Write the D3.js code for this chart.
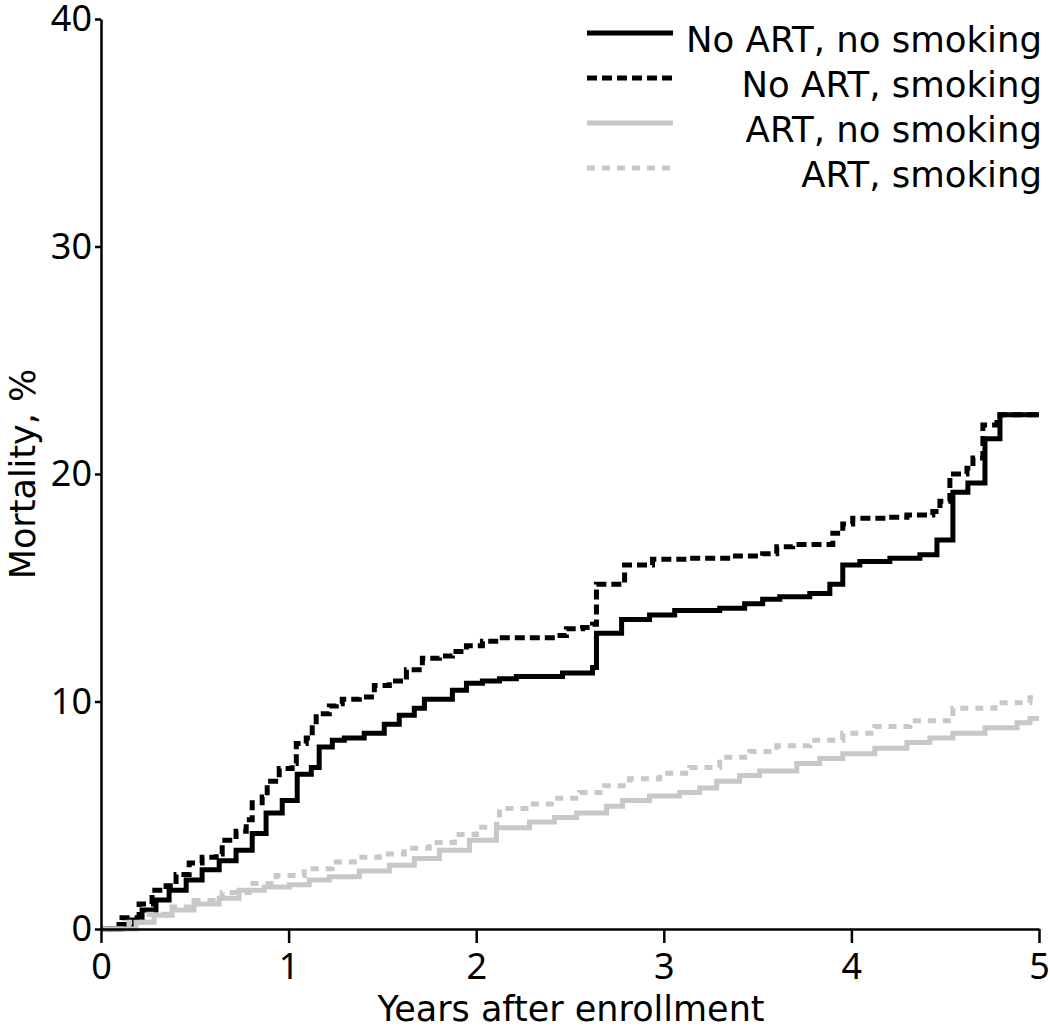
<!DOCTYPE html>
<html>
<head>
<meta charset="utf-8">
<script src="https://cdn.jsdelivr.net/npm/d3@7"></script>
<style>
  html, body { margin: 0; padding: 0; background: #fff; }
  svg { display: block; }
</style>
</head>
<body>
<svg id="chart" width="1050" height="1032"></svg>
<script>
// ---- Data ----
const seriesNames = ["No ART, no smoking", "No ART, smoking", "ART, no smoking", "ART, smoking"];

const noArtNoSmokeYears = [0, 0.096, 0.165, 0.219, 0.293, 0.363, 0.454, 0.539, 0.630, 0.720, 0.806, 0.880, 0.966, 1.046, 1.121, 1.163, 1.233, 1.297, 1.403, 1.510, 1.590, 1.670, 1.724, 1.873, 1.948, 2.033, 2.124, 2.214, 2.460, 2.620, 2.641, 2.775, 2.924, 3.058, 3.298, 3.431, 3.527, 3.618, 3.778, 3.885, 3.954, 4.045, 4.205, 4.365, 4.456, 4.541, 4.621, 4.712, 4.792, 5.0];
const noArtNoSmokeMort  = [0, 0.2, 0.4, 0.83, 1.27, 1.7, 2.15, 2.6, 3.0, 3.46, 4.2, 5.1, 5.65, 6.8, 7.1, 8.0, 8.3, 8.4, 8.6, 9.0, 9.4, 9.7, 10.1, 10.5, 10.8, 10.9, 11.0, 11.1, 11.25, 11.5, 13.0, 13.6, 13.8, 14.0, 14.1, 14.3, 14.5, 14.6, 14.75, 15.15, 16.0, 16.15, 16.3, 16.45, 17.1, 19.2, 19.6, 21.55, 22.6, 22.6];

const noArtSmokeYears = [0, 0.112, 0.203, 0.272, 0.347, 0.400, 0.470, 0.539, 0.614, 0.646, 0.720, 0.774, 0.806, 0.859, 0.886, 0.950, 1.019, 1.041, 1.094, 1.126, 1.147, 1.217, 1.254, 1.286, 1.377, 1.457, 1.537, 1.628, 1.713, 1.804, 1.873, 1.948, 2.033, 2.124, 2.428, 2.481, 2.567, 2.620, 2.641, 2.791, 2.940, 3.122, 3.367, 3.527, 3.602, 3.687, 3.901, 3.954, 4.007, 4.189, 4.296, 4.434, 4.472, 4.525, 4.616, 4.648, 4.701, 4.776, 4.792, 5.0];
const noArtSmokeMort  = [0, 0.5, 1.1, 1.7, 1.9, 2.4, 2.9, 3.15, 3.3, 3.9, 4.3, 4.8, 5.55, 5.8, 6.5, 7.05, 7.27, 8.15, 8.4, 8.85, 9.46, 9.8, 9.9, 10.1, 10.2, 10.7, 10.9, 11.4, 11.9, 12.0, 12.2, 12.45, 12.65, 12.8, 12.9, 13.2, 13.25, 13.4, 15.15, 16.0, 16.25, 16.3, 16.4, 16.5, 16.8, 16.9, 17.4, 17.8, 18.05, 18.1, 18.2, 18.35, 18.8, 20.0, 20.25, 20.7, 22.15, 22.4, 22.6, 22.6];

const artNoSmokeYears = [0, 0.187, 0.283, 0.379, 0.496, 0.630, 0.736, 0.870, 1.003, 1.110, 1.217, 1.377, 1.537, 1.670, 1.804, 1.964, 2.108, 2.284, 2.417, 2.535, 2.695, 2.780, 2.924, 3.084, 3.191, 3.282, 3.404, 3.511, 3.709, 3.831, 3.954, 4.125, 4.296, 4.418, 4.541, 4.712, 4.883, 4.952, 5.0];
const artNoSmokeMort  = [0, 0.3, 0.6, 0.83, 1.1, 1.35, 1.7, 1.85, 1.95, 2.15, 2.3, 2.55, 2.8, 3.1, 3.46, 3.9, 4.45, 4.7, 4.9, 5.1, 5.4, 5.65, 5.85, 6.0, 6.2, 6.5, 6.75, 6.95, 7.27, 7.5, 7.7, 7.95, 8.2, 8.4, 8.6, 8.85, 9.07, 9.25, 9.25];

const artSmokeYears = [0, 0.149, 0.256, 0.379, 0.496, 0.646, 0.790, 0.934, 1.083, 1.233, 1.350, 1.483, 1.617, 1.750, 1.884, 2.001, 2.108, 2.124, 2.284, 2.417, 2.551, 2.684, 2.817, 2.978, 3.138, 3.298, 3.458, 3.602, 3.778, 3.954, 4.125, 4.312, 4.541, 4.765, 4.952, 5.0];
const artSmokeMort  = [0, 0.3, 0.65, 0.97, 1.25, 1.6, 2.0, 2.35, 2.65, 2.95, 3.15, 3.3, 3.55, 3.8, 4.15, 4.47, 4.6, 5.3, 5.5, 5.75, 6.0, 6.3, 6.6, 6.85, 7.1, 7.55, 7.8, 8.05, 8.3, 8.6, 8.9, 9.15, 9.7, 9.95, 10.16, 10.2];

const xTicks = [0, 1, 2, 3, 4, 5];
const yTicks = [0, 10, 20, 30, 40];
const xTitle = "Years after enrollment";
const yTitle = "Mortality, %";

// ---- Build ----
(function () {
  const series = [
    { name: seriesNames[0], years: noArtNoSmokeYears, mort: noArtNoSmokeMort, color: "#000000", dash: null },
    { name: seriesNames[1], years: noArtSmokeYears,   mort: noArtSmokeMort,   color: "#000000", dash: "10,5" },
    { name: seriesNames[2], years: artNoSmokeYears,   mort: artNoSmokeMort,   color: "#c8c8c8", dash: null },
    { name: seriesNames[3], years: artSmokeYears,     mort: artSmokeMort,     color: "#c8c8c8", dash: "8,7" }
  ];

  const svg = d3.select("#chart");
  const mLeft = 101, mRight = 1039, mTop = 19, mBottom = 929;

  const x = d3.scaleLinear().domain([0, 5]).range([mLeft, mRight]);
  const y = d3.scaleLinear().domain([0, 40]).range([mBottom, mTop]);

  const line = d3.line()
    .x(d => x(d[0]))
    .y(d => y(d[1]))
    .curve(d3.curveStepAfter);

  const plot = svg.append("g");
  series.forEach(s => {
    const pts = s.years.map((t, i) => [t, s.mort[i]]);
    plot.append("path")
      .datum(pts)
      .attr("fill", "none")
      .attr("stroke", s.color)
      .attr("stroke-width", 5)
      .attr("stroke-linejoin", "miter")
      .attr("stroke-dasharray", s.dash)
      .attr("d", line);
  });

  // Axes
  const xAxis = svg.append("g")
    .attr("transform", `translate(0,${mBottom})`)
    .call(d3.axisBottom(x).tickValues(xTicks).tickFormat(d3.format("d")).tickSize(14).tickSizeOuter(0).tickPadding(10));
  const yAxis = svg.append("g")
    .attr("transform", `translate(${mLeft},0)`)
    .call(d3.axisLeft(y).tickValues(yTicks).tickFormat(d3.format("d")).tickSize(6).tickSizeOuter(0).tickPadding(3));

  [xAxis, yAxis].forEach(g => {
    g.select(".domain").attr("stroke", "#000").attr("stroke-width", 2.5);
    g.selectAll(".tick line").attr("stroke", "#000").attr("stroke-width", 2.5);
    g.selectAll(".tick text")
      .attr("fill", "#000")
      .style("font-family", "'Noto Sans', sans-serif")
      .style("font-size", "36px");
  });

  // Axis titles
  svg.append("text")
    .attr("x", (mLeft + mRight) / 2 + 1)
    .attr("y", 1021)
    .attr("text-anchor", "middle")
    .style("font-family", "'DejaVu Sans', sans-serif")
    .style("font-size", "35px")
    .attr("fill", "#000")
    .text(xTitle);

  svg.append("text")
    .attr("transform", "translate(35,474) rotate(-90)")
    .attr("text-anchor", "middle")
    .style("font-family", "'DejaVu Sans', sans-serif")
    .style("font-size", "35px")
    .attr("fill", "#000")
    .text(yTitle);

  // Legend
  const legend = svg.append("g");
  series.forEach((s, i) => {
    const baseY = 52 + i * 45;
    legend.append("line")
      .attr("x1", 587).attr("x2", 673)
      .attr("y1", baseY - 19).attr("y2", baseY - 19)
      .attr("stroke", s.color)
      .attr("stroke-width", 5)
      .attr("stroke-dasharray", s.dash);
    legend.append("text")
      .attr("x", 1042)
      .attr("y", baseY)
      .attr("text-anchor", "end")
      .style("font-family", "'DejaVu Sans', sans-serif")
      .style("font-size", "35.5px")
      .attr("fill", "#000")
      .text(s.name);
  });
})();
</script>
</body>
</html>
